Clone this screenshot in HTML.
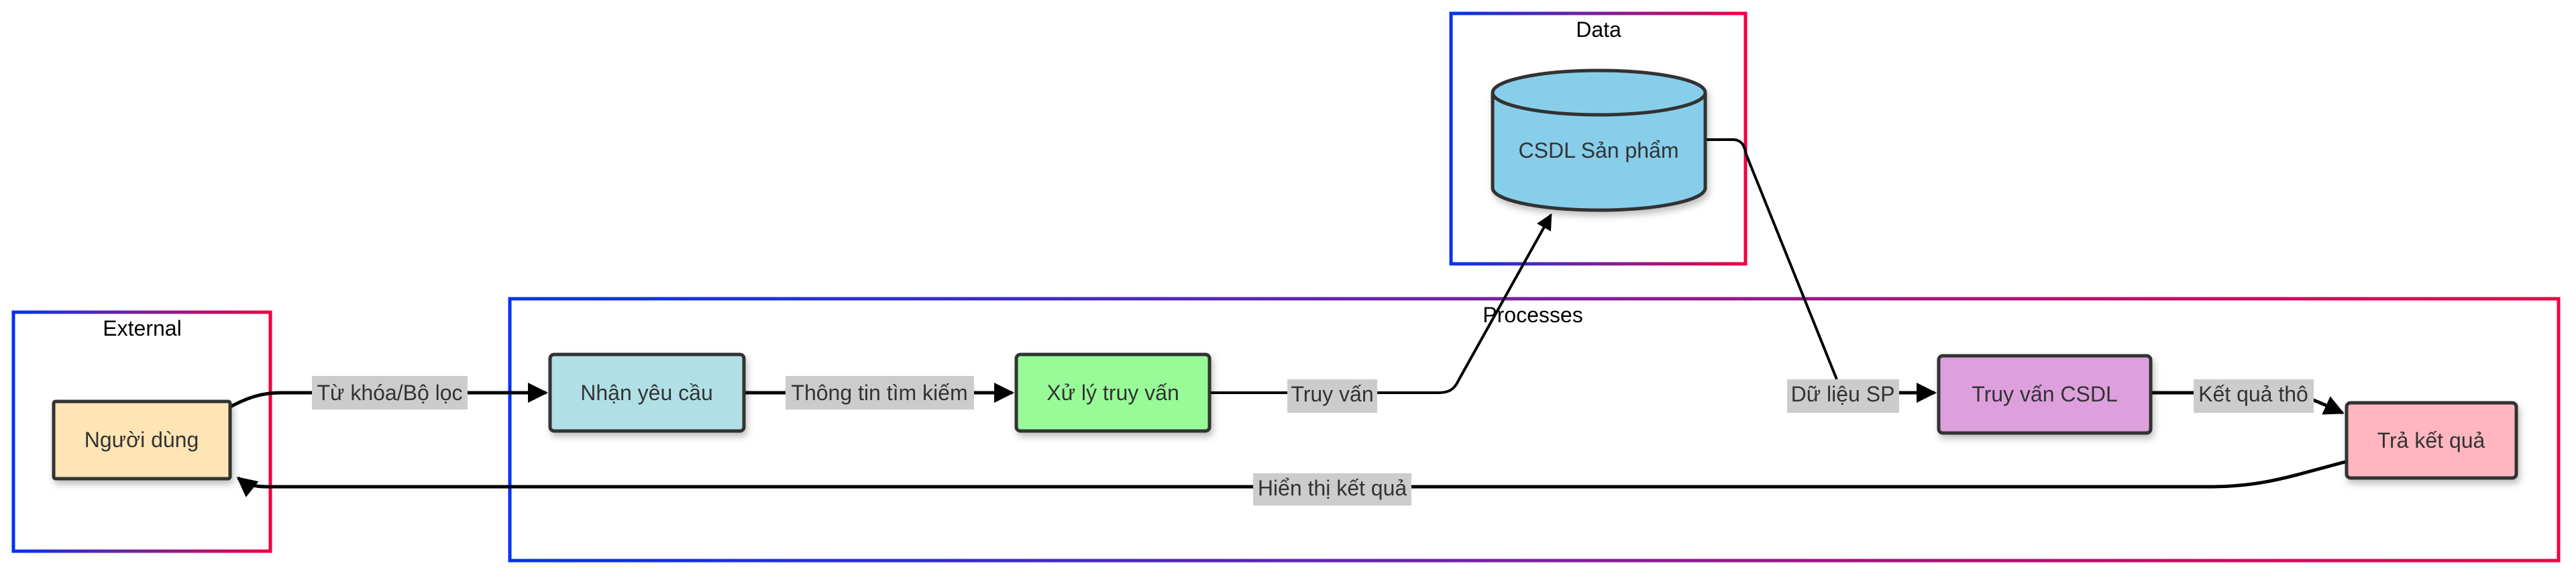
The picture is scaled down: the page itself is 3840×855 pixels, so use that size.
<!DOCTYPE html>
<html><head><meta charset="utf-8"><style>
html,body{margin:0;padding:0;background:#fff;}
svg{display:block;}
text{font-family:"Liberation Sans",Arial,sans-serif;}
</style></head><body>
<svg width="3840" height="855" viewBox="0 0 3840 855" xmlns="http://www.w3.org/2000/svg">
<defs>
<linearGradient id="g" x1="0" y1="0" x2="1" y2="0">
<stop offset="0" stop-color="#0033ee"/><stop offset="0.5" stop-color="#7a1f9a"/><stop offset="1" stop-color="#ee0044"/>
</linearGradient>
<filter id="sh" x="-10%" y="-10%" width="130%" height="140%"><feDropShadow dx="3" dy="6" stdDeviation="5" flood-color="#000" flood-opacity="0.25"/></filter>
<marker id="ar" viewBox="0 0 10 10" refX="9" refY="5" markerWidth="6" markerHeight="6" orient="auto" markerUnits="strokeWidth"><path d="M0,0L10,5L0,10z" fill="#000"/></marker>
</defs>
<!-- clusters -->
<rect x="20" y="465" width="383" height="356" fill="none" stroke="url(#g)" stroke-width="5"/>
<text x="212" y="500" font-size="32" text-anchor="middle" fill="#000">External</text>
<rect x="760" y="445" width="3054" height="390" fill="none" stroke="url(#g)" stroke-width="5"/>
<text x="2285" y="480" font-size="32" text-anchor="middle" fill="#000">Processes</text>
<rect x="2163" y="20" width="439" height="373" fill="none" stroke="url(#g)" stroke-width="5"/>
<text x="2383" y="55" font-size="32" text-anchor="middle" fill="#000">Data</text>

<!-- edges -->
<g fill="none" stroke="#000" stroke-width="5">
<path d="M343,606 C370,592 390,585 420,585 L814,585" marker-end="url(#ar)"/>
<path d="M1109,585 L1509,585" marker-end="url(#ar)"/>
<path d="M1803,585 L2145,585 C2165,585 2170,575 2175,565 L2312,320" marker-end="url(#ar)" stroke-width="4"/>
<path d="M2542,208 L2583,208 C2598,208 2601,220 2603,230 L2738,565" stroke-width="4"/>
<path d="M2831,585 L2884,585" marker-end="url(#ar)"/>
<path d="M3208,585 L3410,585 C3440,590 3470,605 3492,615" marker-end="url(#ar)"/>
<path d="M3496,688 C3412,710 3372,725 3292,725 L400,725 C375,725 365,720 355,712" marker-end="url(#ar)"/>
</g>

<!-- edge labels -->
<g font-size="32" fill="#333">
<rect x="465" y="560" width="232" height="50" fill="#cccccc"/><text x="581" y="596" text-anchor="middle">Từ khóa/Bộ lọc</text>
<rect x="1171" y="560" width="281" height="50" fill="#cccccc"/><text x="1311" y="596" text-anchor="middle">Thông tin tìm kiếm</text>
<rect x="1919" y="565" width="134" height="50" fill="#cccccc"/><text x="1986" y="598" text-anchor="middle">Truy vấn</text>
<rect x="2664" y="565" width="167" height="50" fill="#cccccc"/><text x="2747" y="598" text-anchor="middle">Dữ liệu SP</text>
<rect x="3270" y="565" width="179" height="50" fill="#cccccc"/><text x="3359" y="598" text-anchor="middle">Kết quả thô</text>
<rect x="1868" y="705" width="236" height="48" fill="#cccccc"/><text x="1986" y="738" text-anchor="middle">Hiển thị kết quả</text>
</g>

<!-- nodes -->
<g stroke="#333" stroke-width="5" filter="url(#sh)">
<rect x="80" y="598" width="263" height="115" rx="3" fill="#ffe4b5"/>
<rect x="820" y="528" width="289" height="114" rx="6" fill="#b0e0e6"/>
<rect x="1515" y="528" width="288" height="114" rx="6" fill="#98fb98"/>
<rect x="2890" y="530" width="316" height="115" rx="6" fill="#dda0dd"/>
<rect x="3498" y="600" width="253" height="112" rx="6" fill="#ffb6c1"/>
<path d="M2225,138 L2225,280 A158.5,33 0 0 0 2542,280 L2542,138 A158.5,33 0 0 0 2225,138 A158.5,33 0 0 0 2542,138" fill="#87ceeb"/>
</g>
<g font-size="32" fill="#333" text-anchor="middle">
<text x="211" y="666">Người dùng</text>
<text x="964" y="596">Nhận yêu cầu</text>
<text x="1659" y="596">Xử lý truy vấn</text>
<text x="3048" y="598">Truy vấn CSDL</text>
<text x="3624" y="667">Trả kết quả</text>
<text x="2383" y="235">CSDL Sản phẩm</text>
</g>
</svg>
</body></html>
